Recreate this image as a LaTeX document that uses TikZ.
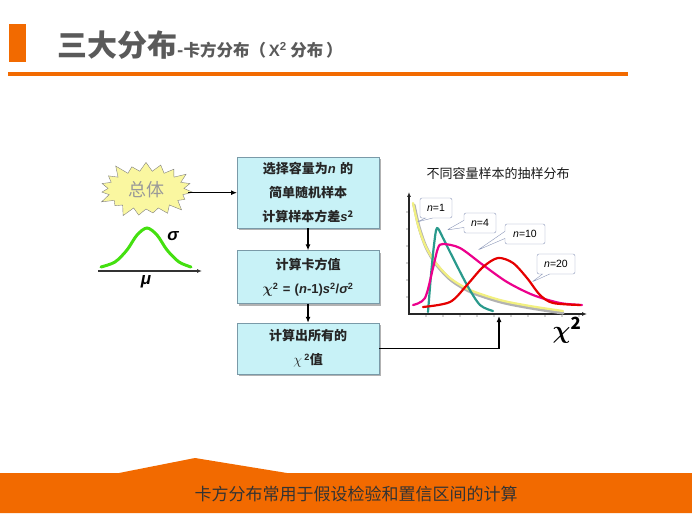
\documentclass[tikz,border=0pt]{standalone}
\usepackage{amsmath}
\usepackage{fontspec}
\setmainfont{Noto Sans CJK SC}
\newfontfamily\lat{Liberation Sans}
\usetikzlibrary{shapes.symbols,shapes.callouts,shadows,positioning,arrows.meta}
\definecolor{orangeband}{HTML}{F26A00}
\definecolor{titlegray}{HTML}{5A5A5A}
\definecolor{boxcyan}{HTML}{C8F2F7}
\definecolor{boxedge}{HTML}{7A9AA8}
\definecolor{burst}{HTML}{FAF7A0}
\definecolor{tealcurve}{HTML}{2A9A8C}
\definecolor{calloutedge}{HTML}{8A96B8}
\definecolor{bellgreen}{HTML}{44E010}
\definecolor{paleyellow}{HTML}{F2F080}
\newcommand{\nvar}{{\lat\itshape n}}
\newcommand{\svar}{{\lat\itshape s}}
\newcommand{\gk}[1]{{\lat\bfseries\itshape #1}}
\newcommand{\chisym}{{\fontsize{15}{15}\selectfont$\boldsymbol{\chi}$}}

\begin{document}
\begin{tikzpicture}[x=1pt, y=-1pt, node distance=20pt,
    p/.style={rectangle, draw=boxedge, fill=boxcyan, minimum width=141pt, text width=135pt, align=center,
      font=\fontsize{13}{24}\selectfont\bfseries, text=black!85,
      drop shadow={shadow xshift=2pt, shadow yshift=-2pt, fill=gray!60, opacity=1}},
    ar/.style={line width=1.4pt, -{Latex[length=6pt,width=5pt]}},
    lab/.style={rectangle callout, rounded corners=2pt, draw=calloutedge, fill=white, inner sep=1pt,
      font=\lat\fontsize{10.5}{11}\selectfont, minimum width=32pt, minimum height=20pt},
    cur/.style={line width=2.2pt, smooth, line cap=round, line join=round}]
    \useasboundingbox (0,0) rectangle (692,518);
    % header
    \fill[orangeband] (9,24) rectangle (26,62);
    \fill[orangeband] (8,72) rectangle (628,76);
    \node[anchor=base west, inner sep=0, text=titlegray] (ttl) at (57,57)
      {\fontsize{30}{32}\selectfont\bfseries 三大分布\fontsize{16.5}{18}\selectfont -卡方分布（\,{\lat X\textsuperscript{2}} 分布\,）};
    % population
    \node[starburst, starburst points=19, starburst point height=12pt, draw=gray, fill=burst,
      minimum width=100pt, minimum height=62pt, text=gray!80, font=\fontsize{18}{20}\selectfont] (pop) at (146,190) {总体};
    \draw[bellgreen, line width=3pt, line cap=round] plot[smooth] coordinates
      {(101,267) (115,262) (127,250) (137,235) (147,228) (157,235) (167,250) (179,262) (191,267)};
    \draw[black!80, line width=1.2pt, -{Latex[length=5pt,width=4pt]}] (98,271) -- (202,271);
    \node[font=\fontsize{17}{17}\selectfont] (sig) at (173,236) {\gk{σ}};
    \node[font=\fontsize{17}{17}\selectfont] (mu) at (146,282) {\gk{μ}};
    % flow boxes
    \node[p, anchor=north west, minimum height=71pt] (sel) at (237,157)
      {选择容量为\nvar{} 的\\简单随机样本\\计算样本方差\svar\textsuperscript{2}};
    \node[p, below=22pt of sel, minimum height=53pt] (calc)
      {计算卡方值\\\chisym{\lat\textsuperscript{2} = (\nvar-1)\svar\textsuperscript{2}/\gk{σ}\textsuperscript{2}}};
    \node[p, below=19pt of calc, minimum height=51pt] (all)
      {计算出所有的\\{\fontsize{15}{15}\selectfont$\chi$}\,{\lat\textsuperscript{2}}值};
    \draw[ar] (pop.east |- sel.west) -- (sel.west);
    \draw[ar] (sel) -- (calc);
    \draw[ar] (calc) -- (all);
    % chart
    \node[font=\fontsize{13}{14}\selectfont, text=black!90] (ctitle) at (498,174) {不同容量样本的抽样分布};
    \foreach \t in {1,...,10} \fill[gray!70] ({409+17*\t},316) circle (0.9pt);
    \foreach \t in {1,...,6} \fill[gray!70] (407,{314-17*\t}) circle (0.9pt);
    \draw[black!85, line width=1.3pt, {Latex[length=5pt,width=4pt]}-{Latex[length=5pt,width=4pt]}]
      (409,192) -- (409,314) -- (587,314);
    \node[font=\fontsize{24}{24}\selectfont] (chi) at (567,330) {$\boldsymbol{\chi}^{\mathbf{2}}$};
    \draw[cur, gray!60, line width=3.2pt] plot coordinates {(414,205) (419,227) (426,247) (436,264) (451,280) (471,292) (501,302) (531,308) (563,313)};
    \draw[cur, paleyellow] plot coordinates {(413,203) (418,225) (425,245) (435,262) (450,278) (470,290) (500,300) (530,306) (563,311)};
    \draw[cur, tealcurve] plot coordinates {(428,312) (431,275) (434,245) (437,228) (443,238) (450,252) (467,285) (480,305) (493,311)};
    \draw[cur, magenta] plot coordinates {(413,305) (425,298) (433,268) (438,248) (443,244) (460,248) (483,265) (507,282) (533,295) (560,303) (582,305)};
    \draw[cur, red!90!black] plot coordinates {(423,307) (450,302) (467,285) (483,267) (498,258) (513,263) (527,278) (540,295) (553,303) (580,305)};
    \node[lab, callout absolute pointer={(417,222)}] (n1) at (436,208) {{\itshape n}=1};
    \node[lab, callout absolute pointer={(447,230)}] (n4) at (480,223) {{\itshape n}=4};
    \node[lab, callout absolute pointer={(478,250)}, minimum width=40pt] (n10) at (525,234) {{\itshape n}=10};
    \node[lab, callout absolute pointer={(532,282)}, minimum width=38pt] (n20) at (556,264) {{\itshape n}=20};
    \coordinate (hit) at (499,316);
    \draw[ar] (all.east) -| (hit);
    % footer band
    \fill[orangeband] (0,473) -- (119,473) -- (195,458) -- (287,473) -- (692,473) -- (692,513) -- (0,513) -- cycle;
    \node[font=\fontsize{17}{19}\selectfont, text=black!80] (note) at (356,494) {卡方分布常用于假设检验和置信区间的计算};
\end{tikzpicture}
\end{document}
